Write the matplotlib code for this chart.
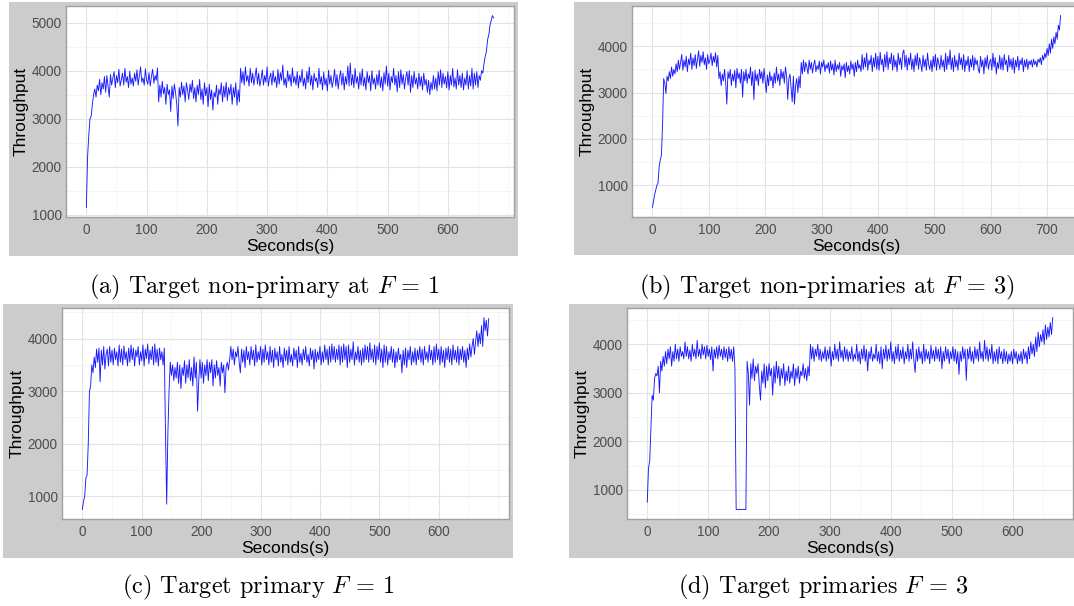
import numpy as np
import matplotlib
matplotlib.use("Agg")
import matplotlib.pyplot as plt
from matplotlib.patches import Rectangle
from matplotlib.ticker import MultipleLocator

plt.rcParams['mathtext.fontset'] = 'cm'

STEP = 2  # sampling interval (seconds)

# (a) Target non-primary at F=1
tput_a = [
    1150, 2200, 2650, 3000, 3050, 3300, 3500, 3620, 3450, 3700, 3580, 3820, 3500, 3750, 3620, 3880, 3550, 3900, 3680, 3450,
    3920, 3700, 3850, 3980, 3650, 3900, 3750, 4030, 3680, 3820, 3950, 3700, 4050, 3760, 3880, 3650, 3990, 3720, 3850, 3680,
    3950, 3780, 4020, 3700, 3900, 4080, 3760, 3850, 3700, 4040, 3800, 3720, 3960, 3680, 3880, 4030, 3740, 3900, 3800, 4060,
    3350, 3700, 3450, 3780, 3520, 3650, 3300, 3720, 3500, 3600, 3150, 3680, 3420, 3720, 3550, 3300, 2850, 3650, 3450, 3760,
    3500, 3680, 3350, 3750, 3600, 3400, 3720, 3550, 3800, 3420, 3650, 3350, 3700, 3500, 3820, 3400, 3620, 3300, 3750, 3480,
    3650, 3250, 3720, 3400, 3600, 3180, 3550, 3450, 3700, 3300, 3620, 3500, 3750, 3350, 3680, 3450, 3760, 3380, 3650, 3500,
    3720, 3300, 3650, 3450, 3750, 3280, 3600, 3350, 4050, 3750, 3980, 3700, 4080, 3780, 3900, 3680, 4050, 3750, 3950, 3700,
    3880, 4060, 3720, 3950, 3680, 3820, 4020, 3700, 3900, 3760, 4080, 3680, 3850, 3950, 3700, 4000, 3760, 3880, 3650, 4030,
    3720, 3960, 3800, 4120, 3700, 3850, 3650, 4000, 3780, 3920, 3680, 4060, 3750, 3880, 3700, 3980, 3640, 3900, 3760, 4030,
    3680, 3850, 3620, 3980, 3750, 4080, 3700, 3900, 3600, 3950, 3780, 3850, 3650, 4050, 3720, 3880, 3600, 3970, 3700, 3840,
    3580, 4010, 3720, 3900, 3650, 3800, 4030, 3680, 3920, 3620, 3850, 4000, 3700, 3950, 3600, 3880, 3720, 4100, 3680, 4160,
    3700, 3920, 3650, 4050, 3740, 3880, 3620, 3960, 3700, 4040, 3680, 3860, 3600, 3980, 3750, 3900, 3580, 4000, 3720, 3850,
    3620, 3920, 3700, 4010, 3650, 3870, 3580, 3960, 3720, 4100, 3680, 3950, 3600, 3880, 3750, 4050, 3700, 3900, 3560, 3980,
    3650, 4020, 3720, 3920, 3620, 3850, 3980, 3700, 4000, 3550, 3900, 3650, 3980, 3720, 3850, 3620, 3950, 3680, 3880, 3600,
    3950, 3700, 3820, 3550, 3800, 3500, 3760, 3600, 3900, 3620, 3850, 3580, 3980, 3700, 4020, 3650, 3950, 3720, 3880, 3640,
    3980, 3600, 3900, 3700, 4050, 3660, 3850, 3620, 4020, 3700, 3900, 3650, 3950, 3600, 3850, 3700, 4000, 3620, 3900, 3680,
    4050, 3620, 3950, 3700, 3980, 3650, 3900, 3800, 4000, 3950, 4150, 4300, 4400, 4650, 4750, 4950, 5050, 5150, 5100,
]

# (b) Target non-primaries at F=3
tput_b = [
    520, 650, 800, 900, 1000, 1050, 1400, 1550, 1650, 2300, 3300, 3200, 2980, 3350, 3250, 3450, 3300, 3550, 3350, 3500,
    3400, 3620, 3450, 3700, 3500, 3650, 3820, 3480, 3700, 3550, 3780, 3450, 3720, 3600, 3850, 3500, 3750, 3580, 3820, 3520,
    3720, 3900, 3560, 3800, 3650, 3880, 3600, 3750, 3500, 3820, 3620, 3700, 3850, 3580, 3780, 3650, 3860, 3550, 3800, 3300,
    3450, 3150, 3400, 3250, 3500, 3200, 2750, 3450, 3300, 3500, 3150, 3400, 3250, 3480, 3100, 3520, 3300, 3420, 3200, 3500,
    2900, 3450, 3250, 3500, 3200, 3400, 3300, 3550, 3150, 3450, 2850, 3480, 3250, 3400, 3150, 3500, 3300, 3450, 3200, 3520,
    3250, 3000, 3380, 3150, 3450, 3250, 3350, 3100, 3420, 3200, 3550, 3250, 3400, 3150, 3500, 3300, 3450, 3200, 3550, 3350,
    2850, 3300, 3400, 3100, 2800, 3350, 2750, 3150, 3300, 3000, 3350, 3100, 3650, 3400, 3700, 3450, 3650, 3550, 3400, 3700,
    3500, 3650, 3420, 3600, 3700, 3450, 3580, 3500, 3680, 3400, 3650, 3550, 3700, 3450, 3600, 3520, 3650, 3420, 3680, 3480,
    3620, 3380, 3700, 3450, 3600, 3500, 3650, 3350, 3580, 3480, 3620, 3320, 3650, 3450, 3580, 3400, 3680, 3500, 3620, 3350,
    3650, 3450, 3700, 3520, 3600, 3450, 3820, 3500, 3750, 3550, 3850, 3480, 3700, 3600, 3800, 3450, 3750, 3550, 3850, 3500,
    3780, 3480, 3870, 3600, 3720, 3450, 3820, 3550, 3880, 3500, 3750, 3620, 3850, 3480, 3800, 3550, 3700, 3450, 3850, 3600,
    3750, 3500, 3850, 3920, 3550, 3800, 3480, 3750, 3600, 3850, 3500, 3720, 3450, 3800, 3580, 3850, 3500, 3750, 3620, 3450,
    3800, 3550, 3720, 3480, 3850, 3600, 3500, 3700, 3450, 3780, 3550, 3820, 3480, 3750, 3620, 3500, 3800, 3550, 3700, 3450,
    3850, 3500, 3780, 3600, 3920, 3500, 3750, 3450, 3800, 3550, 3700, 3480, 3850, 3600, 3750, 3500, 3820, 3450, 3700, 3580,
    3780, 3450, 3720, 3550, 3800, 3480, 3750, 3600, 3700, 3500, 3420, 3780, 3550, 3700, 3400, 3750, 3550, 3800, 3500, 3650,
    3720, 3480, 3850, 3550, 3750, 3400, 3650, 3520, 3800, 3500, 3750, 3480, 3820, 3600, 3700, 3450, 3800, 3550, 3720, 3500,
    3750, 3420, 3700, 3550, 3780, 3480, 3700, 3600, 3750, 3450, 3700, 3550, 3720, 3500, 3680, 3600, 3700, 3550, 3720, 3600,
    3680, 3550, 3720, 3650, 3750, 3600, 3800, 3700, 3850, 3750, 3950, 3800, 4050, 3850, 4150, 3950, 4200, 4050, 4300, 4150,
    4450, 4350, 4660,
]

# (c) Target primary F=1
tput_c = [
    750, 900, 1000, 1350, 1400, 2000, 3000, 3100, 3500, 3350, 3650, 3450, 3800, 3550, 3820, 3180, 3780, 3500, 3850, 3420,
    3700, 3800, 3480, 3850, 3550, 3780, 3500, 3820, 3600, 3750, 3480, 3880, 3550, 3800, 3500, 3860, 3600, 3750, 3480, 3820,
    3550, 3880, 3600, 3820, 3480, 3780, 3650, 3850, 3500, 3750, 3580, 3880, 3480, 3800, 3620, 3900, 3520, 3780, 3600, 3850,
    3500, 3900, 3550, 3800, 3480, 3820, 3600, 3750, 3500, 3820, 2200, 850, 2200, 3000, 3550, 3300, 3500, 3200, 3450, 3250,
    3550, 3150, 3500, 3050, 3450, 3300, 3580, 3150, 3500, 3250, 3600, 3200, 3450, 3100, 3650, 3250, 3550, 2620, 3200, 3600,
    3250, 3550, 3150, 3500, 3300, 3600, 3200, 3550, 3350, 3600, 3100, 3500, 3250, 3580, 3300, 3450, 3100, 3550, 3350, 3500,
    2970, 3450, 3550, 3400, 3600, 3850, 3600, 3800, 3500, 3750, 3650, 3850, 3550, 3350, 3800, 3550, 3780, 3450, 3850, 3600,
    3750, 3500, 3850, 3600, 3780, 3480, 3880, 3550, 3750, 3600, 3850, 3500, 3800, 3550, 3880, 3600, 3750, 3500, 3850, 3550,
    3780, 3450, 3820, 3600, 3750, 3480, 3850, 3550, 3700, 3450, 3820, 3580, 3780, 3500, 3850, 3550, 3700, 3480, 3820, 3600,
    3780, 3450, 3850, 3550, 3720, 3500, 3800, 3600, 3850, 3550, 3700, 3480, 3820, 3600, 3780, 3420, 3800, 3550, 3750, 3600,
    3850, 3500, 3750, 3550, 3880, 3600, 3800, 3500, 3850, 3550, 3900, 3600, 3850, 3550, 3800, 3600, 3880, 3500, 3850, 3550,
    3900, 3600, 3850, 3450, 3880, 3550, 3800, 3600, 3940, 3500, 3750, 3600, 3850, 3550, 3780, 3500, 3820, 3550, 3880, 3600,
    3850, 3550, 3920, 3600, 3800, 3550, 3880, 3500, 3850, 3600, 3920, 3550, 3800, 3450, 3880, 3550, 3850, 3500, 3750, 3600,
    3850, 3550, 3800, 3450, 3750, 3550, 3820, 3600, 3700, 3350, 3780, 3500, 3820, 3450, 3780, 3600, 3850, 3500, 3750, 3550,
    3820, 3500, 3780, 3600, 3850, 3550, 3800, 3500, 3850, 3600, 3750, 3550, 3880, 3600, 3780, 3500, 3850, 3550, 3900, 3600,
    3800, 3500, 3850, 3550, 3780, 3450, 3820, 3600, 3850, 3550, 3800, 3500, 3880, 3600, 3780, 3550, 3850, 3500, 3800, 3600,
    3850, 3550, 3780, 3450, 3820, 3600, 3900, 3650, 3850, 4000, 3700, 3950, 4150, 3850, 4100, 3900, 4250, 3850, 4400, 4150,
    4350, 4050, 4380,
]

# (d) Target primaries F=3
tput_d = [
    750, 1450, 1600, 2300, 2950, 2850, 3300, 3400, 3350, 3550, 3000, 3650, 3450, 3750, 3550, 3850, 3600, 3900, 3700, 3950,
    3550, 3850, 3650, 4000, 3700, 3900, 3650, 3950, 3750, 3850, 3700, 4050, 3750, 3950, 3700, 3880, 3650, 4000, 3750, 3900,
    3700, 4080, 3750, 3900, 3700, 4000, 3780, 3950, 3700, 3980, 3750, 3900, 3680, 3950, 3450, 3900, 3720, 3950, 3700, 3980,
    3750, 3900, 3680, 3950, 3720, 3900, 3650, 3950, 3700, 3900, 3650, 3950, 3500, 600, 600, 600, 600, 600, 600, 600,
    600, 600, 3650, 3400, 2750, 3600, 3300, 3700, 3250, 3550, 3400, 3600, 3150, 2850, 3450, 3200, 3600, 3100, 3550, 3250,
    3600, 3350, 3500, 2950, 3550, 3200, 3650, 3300, 3550, 3150, 3500, 3300, 3600, 3150, 3450, 3250, 3550, 3200, 3450, 3300,
    3600, 3150, 3500, 3300, 3550, 3200, 3450, 3350, 3600, 3300, 3500, 3250, 3550, 3350, 4000, 3700, 3950, 3650, 3900, 3750,
    4000, 3680, 3900, 3650, 3850, 3700, 3950, 3650, 3880, 3700, 3950, 3550, 3850, 3680, 4000, 3700, 3900, 3650, 4050, 3720,
    3880, 3650, 3950, 3700, 3900, 3650, 3850, 3700, 3950, 3650, 3800, 3700, 4000, 3650, 3850, 3600, 3900, 3700, 3980, 3650,
    3900, 3450, 3850, 3700, 3950, 3650, 3800, 3700, 4000, 3650, 3850, 3600, 3950, 3500, 3900, 3700, 3980, 3650, 3900, 3700,
    4050, 3650, 3850, 3600, 3950, 3700, 4000, 3650, 3880, 3700, 3950, 3600, 3850, 3700, 4000, 3650, 3900, 3700, 4050, 3650,
    3420, 3900, 3650, 3950, 3700, 3850, 3600, 4000, 3650, 3900, 3700, 3850, 3600, 3980, 3700, 3880, 3650, 3950, 3700, 3900,
    3650, 3950, 3500, 3850, 3650, 3950, 3700, 3900, 3600, 3850, 3700, 3950, 3650, 3900, 3600, 3850, 3380, 3850, 3650, 3950,
    3700, 3900, 3260, 3900, 3700, 3950, 3650, 3850, 3600, 3950, 3700, 3900, 3650, 4050, 3700, 3850, 3650, 4080, 3700, 3950,
    3650, 3900, 3700, 4000, 3600, 3850, 3650, 3900, 3600, 3950, 3700, 3850, 3600, 3900, 3650, 3850, 3600, 3800, 3650, 3850,
    3600, 3900, 3700, 3850, 3600, 3800, 3650, 3850, 3600, 3900, 3700, 3850, 3600, 3950, 3700, 4050, 3800, 4000, 3750, 4150,
    3850, 4250, 3950, 4200, 4050, 4300, 4000, 4400, 4100, 4350, 4150, 4450, 4200, 4550,
]

xticks_a = [0, 100, 200, 300, 400, 500, 600]
xticks_b = [0, 100, 200, 300, 400, 500, 600, 700]
xticks_c = [0, 100, 200, 300, 400, 500, 600]
xticks_d = [0, 100, 200, 300, 400, 500, 600]
yticks_a = [1000, 2000, 3000, 4000, 5000]
yticks_b = [1000, 2000, 3000, 4000]
yticks_c = [1000, 2000, 3000, 4000]
yticks_d = [1000, 2000, 3000, 4000]

captions = [
    r"(a) Target non-primary at $F\,=\,1$",
    r"(b) Target non-primaries at $F\,=\,3$)",
    r"(c) Target primary $F\,=\,1$",
    r"(d) Target primaries $F\,=\,3$",
]
x_labels = ["Seconds(s)"] * 4
y_labels = ["Throughput"] * 4

W, H = 1074, 606
fig = plt.figure(figsize=(W / 100, H / 100), dpi=100)
fig.patch.set_facecolor('white')

def fx(px):
    return px / W

def fy(py):
    return 1 - py / H

# pixel boxes: (plot left, top, right, bottom), (panel left, top, right, bottom), caption (x, y)
layout = [
    ((66, 6, 514, 217), (9, 2, 518, 256), (264, 287)),
    ((632, 6, 1081, 217), (574, 2, 1080, 255), (827, 287)),
    ((62, 308, 509, 519), (3, 304, 513, 558), (258, 587)),
    ((627, 308, 1073, 519), (569, 304, 1080, 558), (823, 587)),
]
series = [tput_a, tput_b, tput_c, tput_d]
xticks = [xticks_a, xticks_b, xticks_c, xticks_d]
yticks = [yticks_a, yticks_b, yticks_c, yticks_d]

for i, (vals, (pbox, gbox, cap)) in enumerate(zip(series, layout)):
    gl, gt, gr, gb = gbox
    fig.patches.append(Rectangle((fx(gl), fy(gb)), fx(gr - gl), (gb - gt) / H,
                                 transform=fig.transFigure, facecolor='#CCCCCC',
                                 edgecolor='none', zorder=-5))
    l, t, r, b = pbox
    ax = fig.add_axes([fx(l), fy(b), fx(r - l), (b - t) / H])
    ax.set_zorder(2)
    ax.set_facecolor('white')
    y = np.asarray(vals, dtype=float)
    x = np.arange(len(y)) * STEP
    ax.plot(x, y, color='#0000FF', lw=0.65, alpha=0.9)
    xr = x.max() - x.min()
    yr = y.max() - y.min()
    ax.set_xlim(x.min() - 0.05 * xr, x.max() + 0.05 * xr)
    ax.set_ylim(y.min() - 0.05 * yr, y.max() + 0.05 * yr)
    ax.set_xticks(xticks[i])
    ax.set_yticks(yticks[i])
    ax.xaxis.set_minor_locator(MultipleLocator(50))
    ax.yaxis.set_minor_locator(MultipleLocator(500))
    ax.grid(which='major', color='#E3E3E3', lw=0.8)
    ax.grid(which='minor', color='#F2F2F2', lw=0.5)
    ax.set_axisbelow(True)
    for s in ax.spines.values():
        s.set_color('#A0A0A0')
        s.set_linewidth(1.0)
    ax.tick_params(which='both', length=0)
    ax.tick_params(axis='x', which='major', labelsize=9.8, labelcolor='#4D4D4D', pad=4.5)
    ax.tick_params(axis='y', which='major', labelsize=9.8, labelcolor='#4D4D4D', pad=3)
    for lab in ax.get_xticklabels() + ax.get_yticklabels():
        lab.set_family('Liberation Sans')
    ax.set_xlabel(x_labels[i], fontsize=12.5, family='Liberation Sans', labelpad=1.5)
    ax.set_ylabel(y_labels[i], fontsize=12.5, family='Liberation Sans', labelpad=2)
    fig.text(fx(cap[0]), fy(cap[1]), captions[i], ha='center', va='center',
             fontsize=17.5, family='cmr10')

fig.savefig('out.png', dpi=100, facecolor='white')
